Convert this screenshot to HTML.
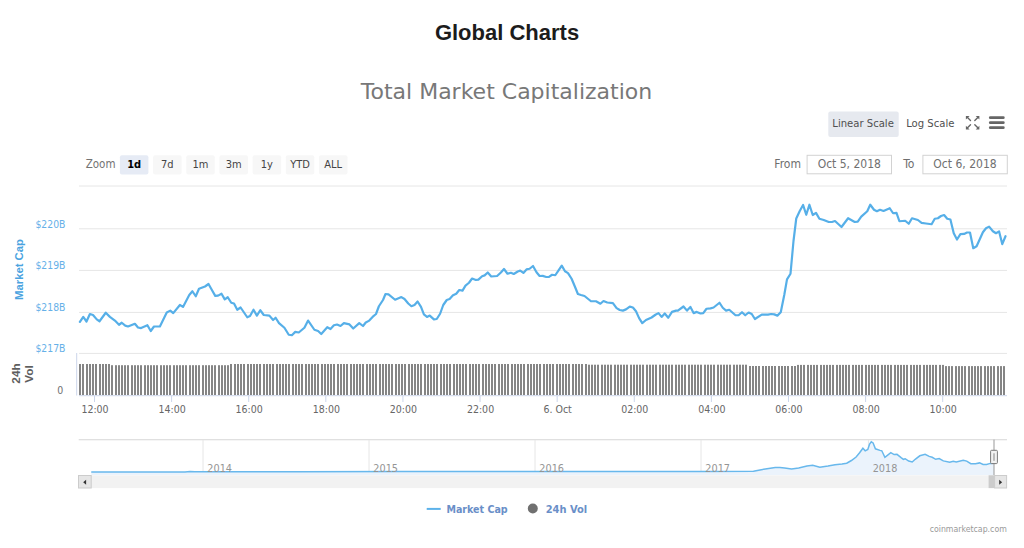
<!DOCTYPE html>
<html><head><meta charset="utf-8"><title>Global Charts</title>
<style>
html,body{margin:0;padding:0;background:#fff;width:1024px;height:548px;overflow:hidden}
svg{display:block}
.t1{font-family:"Liberation Sans",Arial,sans-serif;font-weight:bold;font-size:22px;fill:#1c1c1c}
.t2{font-family:"DejaVu Sans",sans-serif;font-size:22px;fill:#787878}
.c{font-family:"DejaVu Sans Condensed","DejaVu Sans",sans-serif}
</style></head><body>
<svg width="1024" height="548" viewBox="0 0 1024 548">
<rect width="1024" height="548" fill="#fff"/>
<text class="t1" x="507" y="40" text-anchor="middle">Global Charts</text>
<text class="t2" x="506.5" y="98.7" text-anchor="middle">Total Market Capitalization</text>

<!-- scale buttons -->
<rect x="828.3" y="111.6" width="70.4" height="25.3" rx="2" fill="#e6e9ef"/>
<g class="c" font-size="11.2" fill="#505050">
<text x="832.3" y="126.7">Linear Scale</text>
<text x="906.2" y="126.7">Log Scale</text>
</g>
<!-- fullscreen icon -->
<g stroke="#666" stroke-width="1.4" fill="none" stroke-linecap="round">
<line x1="967" y1="117" x2="970.5" y2="120.5"/><line x1="978.3" y1="117" x2="974.8" y2="120.5"/>
<line x1="967" y1="128.3" x2="970.5" y2="124.8"/><line x1="978.3" y1="128.3" x2="974.8" y2="124.8"/>
</g>
<g fill="#666">
<polygon points="965.9,115.9 969.6,115.9 965.9,119.6"/><polygon points="979.4,115.9 975.7,115.9 979.4,119.6"/>
<polygon points="965.9,129.4 969.6,129.4 965.9,125.7"/><polygon points="979.4,129.4 975.7,129.4 979.4,125.7"/>
</g>
<g stroke="#666" stroke-width="2.8" stroke-linecap="round">
<line x1="990.3" y1="117.7" x2="1003.3" y2="117.7"/>
<line x1="990.3" y1="122.7" x2="1003.3" y2="122.7"/>
<line x1="990.3" y1="127.7" x2="1003.3" y2="127.7"/>
</g>

<!-- range selector -->
<g class="c" font-size="11" fill="#444">
<text x="85.7" y="168.4" fill="#737373" font-size="11.5">Zoom</text>
<rect x="119.90" y="155.2" width="28.5" height="19.4" rx="2" fill="#e6ebf5"/><text x="134.15" y="167.9" text-anchor="middle" font-weight="bold" fill="#000">1d</text><rect x="153.08" y="155.2" width="28.5" height="19.4" rx="2" fill="#f7f7f7"/><text x="167.33" y="167.9" text-anchor="middle">7d</text><rect x="186.26" y="155.2" width="28.5" height="19.4" rx="2" fill="#f7f7f7"/><text x="200.51" y="167.9" text-anchor="middle">1m</text><rect x="219.44" y="155.2" width="28.5" height="19.4" rx="2" fill="#f7f7f7"/><text x="233.69" y="167.9" text-anchor="middle">3m</text><rect x="252.62" y="155.2" width="28.5" height="19.4" rx="2" fill="#f7f7f7"/><text x="266.87" y="167.9" text-anchor="middle">1y</text><rect x="285.80" y="155.2" width="28.5" height="19.4" rx="2" fill="#f7f7f7"/><text x="300.05" y="167.9" text-anchor="middle">YTD</text><rect x="318.98" y="155.2" width="28.5" height="19.4" rx="2" fill="#f7f7f7"/><text x="333.23" y="167.9" text-anchor="middle">ALL</text>
</g>
<g class="c" font-size="12" fill="#6e6e6e">
<text x="774.3" y="167.5">From</text>
<text x="903.3" y="167.5">To</text>
</g>
<rect x="807.1" y="155.3" width="84.4" height="18.5" fill="#fff" stroke="#d2d2d2" stroke-width="1"/>
<rect x="922.9" y="155.3" width="84.4" height="18.5" fill="#fff" stroke="#d2d2d2" stroke-width="1"/>
<g class="c" font-size="12" fill="#707070" text-anchor="middle">
<text x="849.3" y="168.2">Oct 5, 2018</text>
<text x="965" y="168.2">Oct 6, 2018</text>
</g>

<!-- grid -->
<g stroke="#e6e6e6" stroke-width="1">
<line x1="79" y1="186" x2="1007" y2="186"/>
<line x1="79" y1="228.8" x2="1007" y2="228.8"/>
<line x1="79" y1="270.4" x2="1007" y2="270.4"/>
<line x1="79" y1="312.4" x2="1007" y2="312.4"/>
<line x1="79" y1="353.4" x2="1007" y2="353.4"/>
</g>
<g class="c" font-size="10.3" fill="#66b0e8" text-anchor="end" transform="translate(-0.6,0.5)">
<text x="66" y="227">$220B</text>
<text x="66" y="268.3">$219B</text>
<text x="66" y="310">$218B</text>
<text x="66" y="351.5">$217B</text>
</g>
<text font-family="Liberation Sans, Arial, sans-serif" font-size="11.3" font-weight="bold" fill="#4aa3df" transform="translate(23.3,269.5) rotate(-90)" text-anchor="middle">Market Cap</text>

<!-- main line -->
<polyline points="79.90,321.90 83.25,316.90 86.50,321.50 89.90,314.00 93.00,315.00 96.75,319.40 99.50,321.25 105.75,312.75 109.90,316.90 114.90,320.60 119.00,324.75 121.75,322.75 125.25,325.60 128.00,326.50 134.90,323.75 138.00,327.50 141.10,328.10 147.40,325.25 150.75,331.00 154.00,326.50 159.90,326.50 166.75,312.50 170.25,310.60 173.25,313.10 179.90,305.00 183.00,306.90 189.25,295.00 192.40,291.25 195.75,296.25 199.00,288.75 205.00,286.50 208.50,284.00 211.90,290.00 215.25,295.90 218.10,295.60 221.50,293.75 224.75,299.40 227.75,297.25 231.25,302.75 234.00,303.50 237.25,309.75 240.60,307.50 247.25,317.25 250.00,316.00 253.50,309.75 256.90,315.60 260.25,310.25 263.75,315.00 269.40,315.60 273.10,320.00 275.60,317.75 279.00,323.10 284.40,327.75 288.75,334.75 291.90,335.25 295.25,331.90 298.75,332.50 304.40,327.75 308.10,320.60 314.40,329.75 318.10,331.00 321.25,334.00 327.25,327.25 330.50,329.00 333.90,325.25 337.00,324.50 340.50,326.00 343.90,323.10 349.50,324.40 353.25,328.50 359.25,323.10 363.00,326.00 365.75,322.50 369.25,320.60 372.60,316.90 376.00,314.00 378.90,306.25 383.00,300.00 385.50,294.00 388.50,294.40 395.10,299.75 401.40,297.10 404.50,299.00 408.25,303.50 411.40,306.25 414.50,305.00 417.60,301.50 421.00,306.90 423.90,314.40 427.00,316.90 429.75,315.60 433.90,319.40 436.75,319.00 440.10,313.75 443.25,305.00 446.75,300.00 449.60,299.00 453.00,295.25 456.25,293.75 459.25,290.00 462.50,290.60 465.50,285.60 469.00,282.75 472.10,278.50 475.90,280.00 478.40,279.60 482.10,276.25 484.60,275.40 487.75,272.50 491.25,276.50 497.10,276.00 500.90,272.50 504.00,269.00 507.50,273.75 510.90,272.75 513.75,274.00 517.75,271.50 520.25,270.60 523.40,272.90 526.50,269.40 529.60,268.75 533.00,266.00 536.50,272.25 539.60,276.00 542.75,275.90 546.25,277.00 549.00,276.90 552.10,274.75 555.25,275.25 558.40,270.60 561.75,265.60 565.00,271.25 568.00,273.10 571.60,278.75 574.75,286.25 577.90,294.00 581.00,295.00 584.50,296.00 587.90,298.75 591.00,301.25 596.00,301.25 600.40,303.75 603.50,301.00 607.25,302.50 612.90,303.10 616.60,308.10 619.75,310.00 622.90,310.60 626.00,309.40 629.75,306.60 632.90,307.50 636.00,311.25 639.10,318.10 642.25,323.10 646.00,320.00 651.60,317.50 655.40,314.75 658.50,313.10 661.60,316.90 664.75,313.50 668.25,317.75 672.00,311.90 676.00,310.60 677.90,310.60 683.50,306.50 687.00,310.60 690.40,306.90 693.60,313.10 696.75,311.90 700.50,313.50 703.25,313.10 706.50,308.75 710.50,308.40 713.60,307.50 719.50,302.75 722.75,307.75 726.10,310.60 729.25,309.75 735.50,315.25 738.60,315.25 742.00,312.25 745.25,315.25 748.60,312.50 751.75,314.00 754.90,319.00 761.75,314.60 768.00,314.60 771.10,314.00 774.25,314.40 777.40,315.60 780.75,312.25 784.25,295.00 787.00,279.40 790.50,273.75 793.50,241.00 796.25,218.50 799.75,211.00 803.10,205.00 806.25,214.75 809.40,204.75 812.75,215.00 816.00,212.90 819.40,218.75 823.75,220.00 828.75,222.00 831.90,222.00 835.00,221.00 841.50,227.00 848.10,218.25 854.75,222.00 857.75,221.60 861.25,216.60 867.25,211.25 870.25,204.75 874.00,209.75 876.90,211.25 880.00,209.75 883.50,211.00 889.75,208.25 893.10,213.25 896.50,212.90 899.40,221.25 905.20,220.75 908.75,223.75 912.00,218.25 917.90,220.00 921.60,222.90 926.00,223.50 931.60,224.25 934.75,218.75 937.90,218.25 941.00,216.00 944.10,215.00 947.25,218.75 950.40,219.50 953.75,233.25 957.00,239.50 960.40,234.10 964.10,233.90 967.00,232.50 970.00,232.50 973.25,248.25 976.60,246.25 982.90,232.25 986.00,228.25 989.10,226.60 992.90,231.25 996.00,233.25 999.10,231.40 1002.25,244.10 1005.50,236.25" fill="none" stroke="#56afe8" stroke-width="2.2" stroke-linejoin="round" stroke-linecap="round"/>

<!-- volume -->
<line x1="76.7" y1="353" x2="76.7" y2="395.5" stroke="#ccd6eb" stroke-width="1"/>
<g fill="#858585"><rect x="79" y="364" width="2" height="31"/><rect x="82" y="364" width="2" height="31"/><rect x="86" y="364" width="2" height="31"/><rect x="89" y="364" width="2" height="31"/><rect x="92" y="364" width="2" height="31"/><rect x="95" y="364" width="2" height="31"/><rect x="99" y="364" width="2" height="31"/><rect x="102" y="364" width="2" height="31"/><rect x="105" y="364" width="2" height="31"/><rect x="108" y="364" width="2" height="31"/><rect x="111" y="365.2" width="2" height="29.80000000000001"/><rect x="115" y="365.2" width="2" height="29.80000000000001"/><rect x="118" y="365.2" width="2" height="29.80000000000001"/><rect x="121" y="365.2" width="2" height="29.80000000000001"/><rect x="124" y="365.2" width="2" height="29.80000000000001"/><rect x="127" y="365.2" width="2" height="29.80000000000001"/><rect x="131" y="365.2" width="2" height="29.80000000000001"/><rect x="134" y="365.2" width="2" height="29.80000000000001"/><rect x="137" y="365.2" width="2" height="29.80000000000001"/><rect x="140" y="365.2" width="2" height="29.80000000000001"/><rect x="144" y="365.2" width="2" height="29.80000000000001"/><rect x="147" y="365.2" width="2" height="29.80000000000001"/><rect x="150" y="365.2" width="2" height="29.80000000000001"/><rect x="153" y="365.2" width="2" height="29.80000000000001"/><rect x="156" y="365.2" width="2" height="29.80000000000001"/><rect x="160" y="365.2" width="2" height="29.80000000000001"/><rect x="163" y="365.2" width="2" height="29.80000000000001"/><rect x="166" y="365.2" width="2" height="29.80000000000001"/><rect x="169" y="365.2" width="2" height="29.80000000000001"/><rect x="173" y="365.2" width="2" height="29.80000000000001"/><rect x="176" y="365.2" width="2" height="29.80000000000001"/><rect x="179" y="365.2" width="2" height="29.80000000000001"/><rect x="182" y="365.2" width="2" height="29.80000000000001"/><rect x="185" y="365.2" width="2" height="29.80000000000001"/><rect x="189" y="365.2" width="2" height="29.80000000000001"/><rect x="192" y="365.2" width="2" height="29.80000000000001"/><rect x="195" y="365.2" width="2" height="29.80000000000001"/><rect x="198" y="365.2" width="2" height="29.80000000000001"/><rect x="202" y="365.2" width="2" height="29.80000000000001"/><rect x="205" y="365.2" width="2" height="29.80000000000001"/><rect x="208" y="365.2" width="2" height="29.80000000000001"/><rect x="211" y="365.2" width="2" height="29.80000000000001"/><rect x="214" y="365.2" width="2" height="29.80000000000001"/><rect x="218" y="365.2" width="2" height="29.80000000000001"/><rect x="221" y="365.2" width="2" height="29.80000000000001"/><rect x="224" y="365.2" width="2" height="29.80000000000001"/><rect x="227" y="365.2" width="2" height="29.80000000000001"/><rect x="230" y="364" width="2" height="31"/><rect x="234" y="364" width="2" height="31"/><rect x="237" y="364" width="2" height="31"/><rect x="240" y="364" width="2" height="31"/><rect x="243" y="364" width="2" height="31"/><rect x="247" y="364" width="2" height="31"/><rect x="250" y="364" width="2" height="31"/><rect x="253" y="364" width="2" height="31"/><rect x="256" y="364" width="2" height="31"/><rect x="259" y="364" width="2" height="31"/><rect x="263" y="364" width="2" height="31"/><rect x="266" y="364" width="2" height="31"/><rect x="269" y="364" width="2" height="31"/><rect x="272" y="364" width="2" height="31"/><rect x="276" y="364" width="2" height="31"/><rect x="279" y="364" width="2" height="31"/><rect x="282" y="364" width="2" height="31"/><rect x="285" y="364" width="2" height="31"/><rect x="288" y="364" width="2" height="31"/><rect x="292" y="364" width="2" height="31"/><rect x="295" y="364" width="2" height="31"/><rect x="298" y="364" width="2" height="31"/><rect x="301" y="364" width="2" height="31"/><rect x="305" y="364" width="2" height="31"/><rect x="308" y="364" width="2" height="31"/><rect x="311" y="364" width="2" height="31"/><rect x="314" y="364" width="2" height="31"/><rect x="317" y="364" width="2" height="31"/><rect x="321" y="364" width="2" height="31"/><rect x="324" y="364" width="2" height="31"/><rect x="327" y="364" width="2" height="31"/><rect x="330" y="364" width="2" height="31"/><rect x="333" y="364" width="2" height="31"/><rect x="337" y="364" width="2" height="31"/><rect x="340" y="364" width="2" height="31"/><rect x="343" y="364" width="2" height="31"/><rect x="346" y="364" width="2" height="31"/><rect x="350" y="364" width="2" height="31"/><rect x="353" y="364" width="2" height="31"/><rect x="356" y="364" width="2" height="31"/><rect x="359" y="364" width="2" height="31"/><rect x="362" y="364" width="2" height="31"/><rect x="366" y="364" width="2" height="31"/><rect x="369" y="364" width="2" height="31"/><rect x="372" y="364" width="2" height="31"/><rect x="375" y="364" width="2" height="31"/><rect x="379" y="364" width="2" height="31"/><rect x="382" y="364" width="2" height="31"/><rect x="385" y="364" width="2" height="31"/><rect x="388" y="364" width="2" height="31"/><rect x="391" y="364" width="2" height="31"/><rect x="395" y="364" width="2" height="31"/><rect x="398" y="364" width="2" height="31"/><rect x="401" y="364" width="2" height="31"/><rect x="404" y="364" width="2" height="31"/><rect x="408" y="364" width="2" height="31"/><rect x="411" y="364" width="2" height="31"/><rect x="414" y="364" width="2" height="31"/><rect x="417" y="364" width="2" height="31"/><rect x="420" y="364" width="2" height="31"/><rect x="424" y="364" width="2" height="31"/><rect x="427" y="364" width="2" height="31"/><rect x="430" y="364" width="2" height="31"/><rect x="433" y="364" width="2" height="31"/><rect x="436" y="364" width="2" height="31"/><rect x="440" y="364" width="2" height="31"/><rect x="443" y="364" width="2" height="31"/><rect x="446" y="364" width="2" height="31"/><rect x="449" y="364" width="2" height="31"/><rect x="453" y="364" width="2" height="31"/><rect x="456" y="364" width="2" height="31"/><rect x="459" y="364" width="2" height="31"/><rect x="462" y="364" width="2" height="31"/><rect x="465" y="364" width="2" height="31"/><rect x="469" y="364" width="2" height="31"/><rect x="472" y="364" width="2" height="31"/><rect x="475" y="364" width="2" height="31"/><rect x="478" y="364" width="2" height="31"/><rect x="482" y="364" width="2" height="31"/><rect x="485" y="364" width="2" height="31"/><rect x="488" y="364" width="2" height="31"/><rect x="491" y="364" width="2" height="31"/><rect x="494" y="364" width="2" height="31"/><rect x="498" y="364" width="2" height="31"/><rect x="501" y="364" width="2" height="31"/><rect x="504" y="364" width="2" height="31"/><rect x="507" y="364" width="2" height="31"/><rect x="511" y="364" width="2" height="31"/><rect x="514" y="364" width="2" height="31"/><rect x="517" y="364" width="2" height="31"/><rect x="520" y="364" width="2" height="31"/><rect x="523" y="364" width="2" height="31"/><rect x="527" y="364" width="2" height="31"/><rect x="530" y="364" width="2" height="31"/><rect x="533" y="364" width="2" height="31"/><rect x="536" y="364" width="2" height="31"/><rect x="539" y="364" width="2" height="31"/><rect x="543" y="364" width="2" height="31"/><rect x="546" y="364" width="2" height="31"/><rect x="549" y="364" width="2" height="31"/><rect x="552" y="364" width="2" height="31"/><rect x="556" y="364" width="2" height="31"/><rect x="559" y="364" width="2" height="31"/><rect x="562" y="364" width="2" height="31"/><rect x="565" y="364" width="2" height="31"/><rect x="568" y="364" width="2" height="31"/><rect x="572" y="364" width="2" height="31"/><rect x="575" y="364" width="2" height="31"/><rect x="578" y="364" width="2" height="31"/><rect x="581" y="364" width="2" height="31"/><rect x="585" y="364" width="2" height="31"/><rect x="588" y="364.7" width="2" height="30.30000000000001"/><rect x="591" y="364.7" width="2" height="30.30000000000001"/><rect x="594" y="364.7" width="2" height="30.30000000000001"/><rect x="597" y="364.7" width="2" height="30.30000000000001"/><rect x="601" y="364.7" width="2" height="30.30000000000001"/><rect x="604" y="364.7" width="2" height="30.30000000000001"/><rect x="607" y="364.7" width="2" height="30.30000000000001"/><rect x="610" y="364.7" width="2" height="30.30000000000001"/><rect x="614" y="364.7" width="2" height="30.30000000000001"/><rect x="617" y="364.7" width="2" height="30.30000000000001"/><rect x="620" y="364.7" width="2" height="30.30000000000001"/><rect x="623" y="364.7" width="2" height="30.30000000000001"/><rect x="626" y="364.7" width="2" height="30.30000000000001"/><rect x="630" y="364.7" width="2" height="30.30000000000001"/><rect x="633" y="364.7" width="2" height="30.30000000000001"/><rect x="636" y="364.7" width="2" height="30.30000000000001"/><rect x="639" y="364.7" width="2" height="30.30000000000001"/><rect x="642" y="364.7" width="2" height="30.30000000000001"/><rect x="646" y="364.7" width="2" height="30.30000000000001"/><rect x="649" y="364.7" width="2" height="30.30000000000001"/><rect x="652" y="364.7" width="2" height="30.30000000000001"/><rect x="655" y="364.7" width="2" height="30.30000000000001"/><rect x="659" y="364.7" width="2" height="30.30000000000001"/><rect x="662" y="364.7" width="2" height="30.30000000000001"/><rect x="665" y="364.7" width="2" height="30.30000000000001"/><rect x="668" y="364.7" width="2" height="30.30000000000001"/><rect x="671" y="364.7" width="2" height="30.30000000000001"/><rect x="675" y="364.7" width="2" height="30.30000000000001"/><rect x="678" y="364.7" width="2" height="30.30000000000001"/><rect x="681" y="364.7" width="2" height="30.30000000000001"/><rect x="684" y="364.7" width="2" height="30.30000000000001"/><rect x="688" y="364.7" width="2" height="30.30000000000001"/><rect x="691" y="364.7" width="2" height="30.30000000000001"/><rect x="694" y="364.7" width="2" height="30.30000000000001"/><rect x="697" y="364.7" width="2" height="30.30000000000001"/><rect x="700" y="364.7" width="2" height="30.30000000000001"/><rect x="704" y="364.7" width="2" height="30.30000000000001"/><rect x="707" y="364.7" width="2" height="30.30000000000001"/><rect x="710" y="364.7" width="2" height="30.30000000000001"/><rect x="713" y="364.7" width="2" height="30.30000000000001"/><rect x="717" y="364.7" width="2" height="30.30000000000001"/><rect x="720" y="364.7" width="2" height="30.30000000000001"/><rect x="723" y="364.7" width="2" height="30.30000000000001"/><rect x="726" y="364.7" width="2" height="30.30000000000001"/><rect x="729" y="364.7" width="2" height="30.30000000000001"/><rect x="733" y="364.7" width="2" height="30.30000000000001"/><rect x="736" y="364.7" width="2" height="30.30000000000001"/><rect x="739" y="364.7" width="2" height="30.30000000000001"/><rect x="742" y="364.7" width="2" height="30.30000000000001"/><rect x="745" y="364.7" width="2" height="30.30000000000001"/><rect x="749" y="366" width="2" height="29"/><rect x="752" y="366" width="2" height="29"/><rect x="755" y="366" width="2" height="29"/><rect x="758" y="366" width="2" height="29"/><rect x="762" y="366" width="2" height="29"/><rect x="765" y="366" width="2" height="29"/><rect x="768" y="366" width="2" height="29"/><rect x="771" y="366" width="2" height="29"/><rect x="774" y="366" width="2" height="29"/><rect x="778" y="366" width="2" height="29"/><rect x="781" y="366" width="2" height="29"/><rect x="784" y="366" width="2" height="29"/><rect x="787" y="366" width="2" height="29"/><rect x="791" y="366" width="2" height="29"/><rect x="794" y="366" width="2" height="29"/><rect x="797" y="364.9" width="2" height="30.100000000000023"/><rect x="800" y="364.9" width="2" height="30.100000000000023"/><rect x="803" y="364.9" width="2" height="30.100000000000023"/><rect x="807" y="364.9" width="2" height="30.100000000000023"/><rect x="810" y="364.9" width="2" height="30.100000000000023"/><rect x="813" y="364.9" width="2" height="30.100000000000023"/><rect x="816" y="364.9" width="2" height="30.100000000000023"/><rect x="820" y="364.9" width="2" height="30.100000000000023"/><rect x="823" y="364.9" width="2" height="30.100000000000023"/><rect x="826" y="364.9" width="2" height="30.100000000000023"/><rect x="829" y="364.9" width="2" height="30.100000000000023"/><rect x="832" y="364.9" width="2" height="30.100000000000023"/><rect x="836" y="364.9" width="2" height="30.100000000000023"/><rect x="839" y="364.9" width="2" height="30.100000000000023"/><rect x="842" y="364.9" width="2" height="30.100000000000023"/><rect x="845" y="364.9" width="2" height="30.100000000000023"/><rect x="848" y="364.9" width="2" height="30.100000000000023"/><rect x="852" y="364.9" width="2" height="30.100000000000023"/><rect x="855" y="364.9" width="2" height="30.100000000000023"/><rect x="858" y="364.9" width="2" height="30.100000000000023"/><rect x="861" y="364.9" width="2" height="30.100000000000023"/><rect x="865" y="364.9" width="2" height="30.100000000000023"/><rect x="868" y="364.9" width="2" height="30.100000000000023"/><rect x="871" y="364.9" width="2" height="30.100000000000023"/><rect x="874" y="364.9" width="2" height="30.100000000000023"/><rect x="877" y="364.9" width="2" height="30.100000000000023"/><rect x="881" y="364.9" width="2" height="30.100000000000023"/><rect x="884" y="364.9" width="2" height="30.100000000000023"/><rect x="887" y="364.9" width="2" height="30.100000000000023"/><rect x="890" y="364.9" width="2" height="30.100000000000023"/><rect x="894" y="364.9" width="2" height="30.100000000000023"/><rect x="897" y="364.9" width="2" height="30.100000000000023"/><rect x="900" y="364.9" width="2" height="30.100000000000023"/><rect x="903" y="364.9" width="2" height="30.100000000000023"/><rect x="906" y="364.9" width="2" height="30.100000000000023"/><rect x="910" y="364.9" width="2" height="30.100000000000023"/><rect x="913" y="364.9" width="2" height="30.100000000000023"/><rect x="916" y="364.9" width="2" height="30.100000000000023"/><rect x="919" y="364.9" width="2" height="30.100000000000023"/><rect x="923" y="364.9" width="2" height="30.100000000000023"/><rect x="926" y="364.9" width="2" height="30.100000000000023"/><rect x="929" y="364.9" width="2" height="30.100000000000023"/><rect x="932" y="364.9" width="2" height="30.100000000000023"/><rect x="935" y="364.9" width="2" height="30.100000000000023"/><rect x="939" y="364.9" width="2" height="30.100000000000023"/><rect x="942" y="364.9" width="2" height="30.100000000000023"/><rect x="945" y="366.1" width="2" height="28.899999999999977"/><rect x="948" y="366.1" width="2" height="28.899999999999977"/><rect x="951" y="366.1" width="2" height="28.899999999999977"/><rect x="955" y="366.1" width="2" height="28.899999999999977"/><rect x="958" y="366.1" width="2" height="28.899999999999977"/><rect x="961" y="366.1" width="2" height="28.899999999999977"/><rect x="964" y="366.1" width="2" height="28.899999999999977"/><rect x="968" y="366.1" width="2" height="28.899999999999977"/><rect x="971" y="366.1" width="2" height="28.899999999999977"/><rect x="974" y="366.1" width="2" height="28.899999999999977"/><rect x="977" y="366.1" width="2" height="28.899999999999977"/><rect x="980" y="366.1" width="2" height="28.899999999999977"/><rect x="984" y="366.1" width="2" height="28.899999999999977"/><rect x="987" y="366.1" width="2" height="28.899999999999977"/><rect x="990" y="366.1" width="2" height="28.899999999999977"/><rect x="993" y="366.1" width="2" height="28.899999999999977"/><rect x="997" y="366.1" width="2" height="28.899999999999977"/><rect x="1000" y="366.1" width="2" height="28.899999999999977"/><rect x="1003" y="366.1" width="2" height="28.899999999999977"/></g>
<line x1="79" y1="395.7" x2="1007" y2="395.7" stroke="#ccd6eb" stroke-width="1"/>
<g font-family="Liberation Sans, Arial, sans-serif" font-size="11.8" font-weight="bold" fill="#5e5e5e" text-anchor="middle">
<text transform="translate(19.9,373.5) rotate(-90)">24h</text>
<text transform="translate(33.1,374) rotate(-90)">Vol</text>
</g>
<text class="c" x="63.2" y="394" font-size="10.5" fill="#707070" text-anchor="end">0</text>

<!-- x axis -->
<g stroke="#ccd6eb" stroke-width="1"><line x1="94.5" y1="396" x2="94.5" y2="402"/><line x1="171.61" y1="396" x2="171.61" y2="402"/><line x1="248.72" y1="396" x2="248.72" y2="402"/><line x1="325.83" y1="396" x2="325.83" y2="402"/><line x1="402.94" y1="396" x2="402.94" y2="402"/><line x1="480.05" y1="396" x2="480.05" y2="402"/><line x1="557.16" y1="396" x2="557.16" y2="402"/><line x1="634.27" y1="396" x2="634.27" y2="402"/><line x1="711.38" y1="396" x2="711.38" y2="402"/><line x1="788.49" y1="396" x2="788.49" y2="402"/><line x1="865.6" y1="396" x2="865.6" y2="402"/><line x1="942.71" y1="396" x2="942.71" y2="402"/></g>
<g class="c" font-size="10.5" fill="#666" text-anchor="middle"><text x="95.0" y="412.5">12:00</text><text x="172.11" y="412.5">14:00</text><text x="249.22" y="412.5">16:00</text><text x="326.33" y="412.5">18:00</text><text x="403.44" y="412.5">20:00</text><text x="480.55" y="412.5">22:00</text><text x="557.66" y="412.5">6. Oct</text><text x="634.77" y="412.5">02:00</text><text x="711.88" y="412.5">04:00</text><text x="788.99" y="412.5">06:00</text><text x="866.1" y="412.5">08:00</text><text x="943.21" y="412.5">10:00</text></g>

<!-- navigator -->
<line x1="78.7" y1="439.8" x2="1007" y2="439.8" stroke="#d6d6d6" stroke-width="1.1"/>
<g stroke="#e6e6e6" stroke-width="1"><line x1="203" y1="440" x2="203" y2="475"/><line x1="369" y1="440" x2="369" y2="475"/><line x1="535" y1="440" x2="535" y2="475"/><line x1="701" y1="440" x2="701" y2="475"/><line x1="868.4" y1="440" x2="868.4" y2="475"/></g>
<polygon points="91.25,472.00 150.00,472.10 185.00,472.00 190.00,471.50 195.00,471.80 300.00,471.70 400.00,471.50 500.00,471.50 600.00,471.40 700.00,471.40 753.50,471.30 760.00,469.90 767.00,468.70 775.20,467.50 779.90,467.50 784.60,468.10 791.60,469.10 798.70,467.90 806.90,466.00 812.70,465.20 819.80,467.20 828.00,466.00 835.00,464.80 842.00,464.00 846.70,463.20 851.40,460.50 856.10,457.00 859.60,452.70 862.90,448.20 865.20,450.80 867.80,449.40 869.60,444.10 871.30,441.80 873.10,442.90 875.40,448.80 880.00,450.40 881.80,450.80 884.90,457.30 890.80,452.70 894.10,454.60 897.00,454.30 901.10,457.60 903.40,459.30 905.20,458.75 908.70,461.10 912.20,462.00 915.20,459.30 919.80,455.80 925.10,454.30 929.20,456.40 932.20,457.30 935.70,459.30 939.20,458.50 943.30,460.90 949.70,462.30 953.20,461.30 956.20,462.00 963.20,460.20 966.70,461.10 970.80,463.70 975.50,463.70 979.60,462.90 983.10,464.40 986.60,464.40 990.20,463.40 994.00,463.20 994,475 91.25,475" fill="#ebf3fc"/>
<polyline points="91.25,472.00 150.00,472.10 185.00,472.00 190.00,471.50 195.00,471.80 300.00,471.70 400.00,471.50 500.00,471.50 600.00,471.40 700.00,471.40 753.50,471.30 760.00,469.90 767.00,468.70 775.20,467.50 779.90,467.50 784.60,468.10 791.60,469.10 798.70,467.90 806.90,466.00 812.70,465.20 819.80,467.20 828.00,466.00 835.00,464.80 842.00,464.00 846.70,463.20 851.40,460.50 856.10,457.00 859.60,452.70 862.90,448.20 865.20,450.80 867.80,449.40 869.60,444.10 871.30,441.80 873.10,442.90 875.40,448.80 880.00,450.40 881.80,450.80 884.90,457.30 890.80,452.70 894.10,454.60 897.00,454.30 901.10,457.60 903.40,459.30 905.20,458.75 908.70,461.10 912.20,462.00 915.20,459.30 919.80,455.80 925.10,454.30 929.20,456.40 932.20,457.30 935.70,459.30 939.20,458.50 943.30,460.90 949.70,462.30 953.20,461.30 956.20,462.00 963.20,460.20 966.70,461.10 970.80,463.70 975.50,463.70 979.60,462.90 983.10,464.40 986.60,464.40 990.20,463.40 994.00,463.20" fill="none" stroke="#68b8ec" stroke-width="1.5"/>
<g class="c" font-size="10.8" fill="#959595"><text x="207.3" y="471.8">2014</text><text x="373.3" y="471.8">2015</text><text x="539.3" y="471.8">2016</text><text x="705.3" y="471.8">2017</text><text x="872.6999999999999" y="471.8">2018</text></g>
<line x1="994" y1="439.6" x2="994" y2="475" stroke="#999" stroke-width="1"/>
<rect x="990.6" y="450.3" width="6.8" height="13.3" rx="1" fill="#f2f2f2" stroke="#7a7a7a" stroke-width="1"/>
<rect x="993" y="453.3" width="2" height="7.5" fill="#bbb"/>

<!-- scrollbar -->
<rect x="78.5" y="475.3" width="928.5" height="12.8" fill="#f2f2f2"/>
<rect x="78.5" y="475.5" width="12.7" height="12.5" fill="#e6e6e6" stroke="#ccc" stroke-width="1"/>
<polygon points="83.2,482.2 86.1,479.7 86.1,484.7" fill="#333"/>
<rect x="988.6" y="475.3" width="6" height="12.8" fill="#ccc"/>
<rect x="994.6" y="475.5" width="12" height="12.5" fill="#e6e6e6" stroke="#ccc" stroke-width="1"/>
<polygon points="1002.1,482.2 999.2,479.7 999.2,484.7" fill="#333"/>

<!-- legend -->
<line x1="426.7" y1="508.9" x2="440.7" y2="508.9" stroke="#5cb2ea" stroke-width="2"/>
<circle cx="532.8" cy="508.5" r="5" fill="#707070"/>
<g class="c" font-size="11" font-weight="bold" fill="#6a8fc8">
<text x="446.4" y="512.8" font-size="10.6">Market Cap</text>
<text x="545.7" y="512.8">24h Vol</text>
</g>
<text class="c" x="1006.8" y="532" font-size="8.7" fill="#999" text-anchor="end">coinmarketcap.com</text>
</svg>
</body></html>
